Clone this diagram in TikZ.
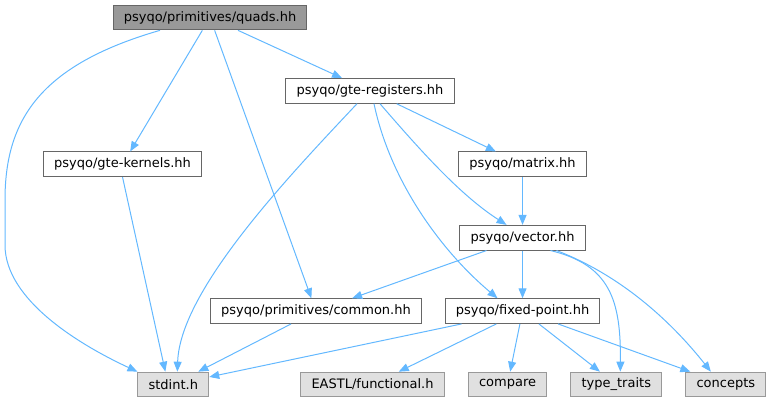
\documentclass[tikz,border=0pt]{standalone}
\usepackage{fontspec}
\setmainfont{DejaVu Sans}
\usetikzlibrary{arrows.meta,positioning,calc}
\definecolor{edgeblue}{RGB}{99,184,255}
\definecolor{boxline}{HTML}{666666}
\definecolor{sysline}{HTML}{999999}
\definecolor{sysfill}{HTML}{E0E0E0}
\definecolor{rootfill}{HTML}{999999}

\begin{document}
\begin{tikzpicture}[
  x=0.75pt, y=-0.75pt,
  node distance=35.8pt and 17.4pt,
  hdr/.style={draw=boxline, fill=white, line width=0.75pt, minimum height=18.5pt, inner xsep=8pt, inner ysep=2pt, font=\fontsize{9.75}{11}\selectfont},
  root/.style={hdr, fill=rootfill},
  sys/.style={hdr, draw=sysline, fill=sysfill},
  a/.style={-{Triangle[length=7.5pt,width=6pt]}, draw=edgeblue, line width=0.75pt}
]
  \useasboundingbox (0,0) rectangle (773,403);
  \node[root] (qd) at (210,17.5) {psyqo/primitives/quads.hh};
  \node[hdr, below=of qd, xshift=120pt] (reg) {psyqo/gte-registers.hh};
  \node[hdr, below=of reg, xshift=-185.6pt] (kern) {psyqo/gte-kernels.hh};
  \node[hdr, below=of reg, xshift=114.4pt] (mat) {psyqo/matrix.hh};
  \node[hdr, below=of mat] (vec) {psyqo/vector.hh};
  \node[hdr, below=of vec] (fp) {psyqo/fixed-point.hh};
  \node[hdr, left=17pt of fp] (com) {psyqo/primitives/common.hh};
  \node[sys, below=of fp, xshift=-11.25pt] (cmp) {compare};
  \node[sys, left=of cmp] (eastl) {EASTL/functional.h};
  \node[sys, right=of cmp] (tt) {type\_traits};
  \node[sys, right=of tt] (cpt) {concepts};
  \node[sys, below=of com, xshift=-107pt] (std) {stdint.h};
  % includes of quads.hh
  \draw[a] ($(qd.south)+(-50,0)$) .. controls (40,65) and (5,120) .. (5,200) -- (5,245) .. controls (5,300) and (80,345) .. (std.north west);
  \draw[a] (qd) -- (kern);
  \draw[a] (qd) -- (com);
  \draw[a] (qd) -- (reg);
  \draw[a] (kern.south) -- ($(std.north)+(-8,0)$);
  % includes of gte-registers.hh
  \draw[a] ($(reg.south)+(-13,0)$) .. controls (290,175) and (180,290) .. ($(std.north)+(4,0)$);
  \draw[a] ($(reg.south)+(4,0)$) .. controls (390,180) and (440,250) .. ($(fp.north)+(-25,0)$);
  \draw[a] ($(reg.south)+(10,0)$) .. controls (420,150) and (460,195) .. ($(vec.north)+(-16,0)$);
  \draw[a] (reg) -- (mat);
  \draw[a] (mat) -- (vec);
  % includes of vector.hh
  \draw[a] (vec) -- (com);
  \draw[a] (vec) -- (fp);
  \draw[a] ($(vec.south)+(28,0)$) .. controls (610,265) and (621,300) .. ($(tt.north)+(4,0)$);
  \draw[a] ($(vec.south)+(34,0)$) .. controls (620,275) and (670,320) .. ($(cpt.north)+(-15,0)$);
  % includes of common.hh and fixed-point.hh
  \draw[a] (com) -- (std);
  \draw[a] (fp) -- (std);
  \draw[a] (fp) -- (eastl);
  \draw[a] (fp) -- (cmp);
  \draw[a] (fp) -- (tt);
  \draw[a] (fp) -- (cpt);
\end{tikzpicture}
\end{document}
